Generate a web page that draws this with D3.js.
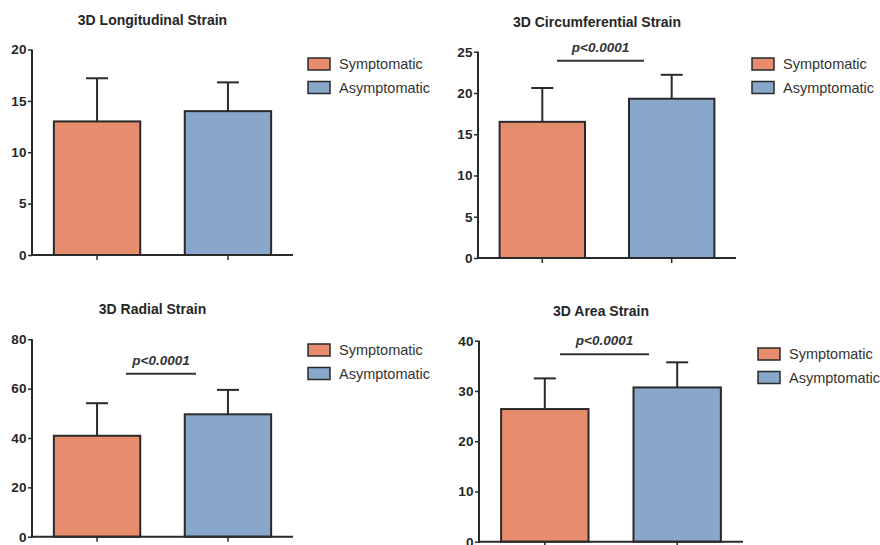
<!DOCTYPE html>
<html>
<head>
<meta charset="utf-8">
<script src="https://cdn.jsdelivr.net/npm/d3@7"></script>
<style>
  body { margin: 0; background: #fff; }
  svg { display: block; font-family: Arial, "Liberation Sans", sans-serif; }
</style>
</head>
<body>
<div class="chart"></div>
<script>
// data
const groups = ["Symptomatic", "Asymptomatic"];
const colors = ["#e88c6e", "#89a6cb"];

const titles = ["3D Longitudinal Strain", "3D Circumferential Strain", "3D Radial Strain", "3D Area Strain"];
const means = [[13.0, 14.0], [16.5, 19.3], [40.9, 49.6], [26.4, 30.7]];
const sds = [[4.2, 2.8], [4.1, 2.9], [13.2, 9.9], [6.1, 5.0]];
const yMax = [20, 25, 80, 40];
const yStep = [5, 5, 20, 10];
const pLabels = [null, "p<0.0001", "p<0.0001", "p<0.0001"];
const pLevels = [null, 23.9, 66, 37.3];

const width = 880;
const height = 545;

// panel frames: axis left, axis right, top of y range, zero line
const panels = [
  {x0: 32, x1: 293, yt: 49.5, yb: 255, lx: 308, ly: 58, sig: [125, 196]},
  {x0: 478, x1: 736, yt: 51.7, yb: 258, lx: 752, ly: 58, sig: [557, 644]},
  {x0: 32, x1: 293, yt: 339.3, yb: 536.7, lx: 308, ly: 344, sig: [126, 196]},
  {x0: 479, x1: 743, yt: 340.7, yb: 541.7, lx: 758, ly: 348, sig: [560, 649]}
];

const svg = d3.select('.chart')
  .append('svg')
  .attr('width', width)
  .attr('height', height);

panels.forEach((p, k) => {
  const g = svg.append('g');

  const x = d3.scaleBand()
    .domain(groups)
    .range([p.x0, p.x1])
    .paddingInner(0.34)
    .paddingOuter(0.167);

  const y = d3.scaleLinear()
    .domain([0, yMax[k]])
    .range([p.yb, p.yt]);

  const rows = groups.map((name, i) => ({name: name, mean: means[k][i], sd: sds[k][i], color: colors[i]}));

  // error bars first, bars cover the lower part
  const err = g.selectAll('g.err')
    .data(rows)
    .enter()
    .append('g')
    .attr('class', 'err')
    .attr('stroke', '#2a2a2a')
    .attr('stroke-width', 2);
  err.append('line')
    .attr('x1', d => x(d.name) + x.bandwidth() / 2)
    .attr('x2', d => x(d.name) + x.bandwidth() / 2)
    .attr('y1', d => y(d.mean))
    .attr('y2', d => y(d.mean + d.sd));
  err.append('line')
    .attr('x1', d => x(d.name) + x.bandwidth() / 2 - 11)
    .attr('x2', d => x(d.name) + x.bandwidth() / 2 + 11)
    .attr('y1', d => y(d.mean + d.sd))
    .attr('y2', d => y(d.mean + d.sd));

  g.selectAll('rect.bar')
    .data(rows)
    .enter()
    .append('rect')
    .attr('class', 'bar')
    .attr('x', d => x(d.name))
    .attr('y', d => y(d.mean))
    .attr('width', x.bandwidth())
    .attr('height', d => y(0) - y(d.mean))
    .attr('fill', d => d.color)
    .attr('stroke', '#2a2a2a')
    .attr('stroke-width', 2);

  // y axis
  const ya = g.append('g')
    .attr('transform', `translate(${p.x0},0)`)
    .call(d3.axisLeft(y).tickValues(d3.range(0, yMax[k] + 1, yStep[k])).tickSize(4).tickPadding(1).tickSizeOuter(0));
  ya.select('.domain').attr('stroke', '#2a2a2a').attr('stroke-width', 2)
    .attr('d', `M0,${p.yb + 1}V${p.yt}`);
  ya.selectAll('.tick line').attr('stroke', '#2a2a2a').attr('stroke-width', 1.5);
  ya.selectAll('.tick text')
    .attr('font-size', 13.5)
    .attr('font-weight', 'bold')
    .attr('letter-spacing', 0.4)
    .attr('fill', '#262626')
    .attr('font-family', 'Arial, "Liberation Sans", sans-serif');

  // x axis
  const xa = g.append('g')
    .attr('transform', `translate(0,${p.yb})`)
    .call(d3.axisBottom(x).tickSize(5).tickSizeOuter(0).tickFormat(''));
  xa.select('.domain').attr('stroke', '#2a2a2a').attr('stroke-width', 2)
    .attr('d', `M${p.x0 - 1},0H${p.x1}`);
  xa.selectAll('.tick line').attr('stroke', '#2a2a2a').attr('stroke-width', 1.5);

  // title
  g.append('text')
    .attr('x', (p.x0 + p.x1) / 2 - 10)
    .attr('y', p.yt - 25)
    .attr('text-anchor', 'middle')
    .attr('font-size', 14)
    .attr('font-weight', 'bold')
    .attr('fill', '#262626')
    .text(titles[k]);

  // significance bar
  if (pLabels[k]) {
    const ly = y(pLevels[k]);
    g.append('line')
      .attr('x1', p.sig[0]).attr('x2', p.sig[1])
      .attr('y1', ly).attr('y2', ly)
      .attr('stroke', '#333')
      .attr('stroke-width', 2);
    g.append('text')
      .attr('x', (p.sig[0] + p.sig[1]) / 2)
      .attr('y', ly - 9)
      .attr('text-anchor', 'middle')
      .attr('font-size', 13.5)
      .attr('font-weight', 'bold')
      .attr('font-style', 'italic')
      .attr('fill', '#333')
      .text(pLabels[k]);
  }

  // legend
  const leg = g.selectAll('g.leg')
    .data(rows)
    .enter()
    .append('g')
    .attr('class', 'leg')
    .attr('transform', (d, i) => `translate(${p.lx},${p.ly + i * 23.5})`);
  leg.append('rect')
    .attr('width', 22)
    .attr('height', 12)
    .attr('fill', d => d.color)
    .attr('stroke', '#2a2a2a')
    .attr('stroke-width', 1.5);
  leg.append('text')
    .attr('x', 31)
    .attr('y', 11)
    .attr('font-size', 14.5)
    .attr('fill', '#333')
    .text(d => d.name);
});
</script>
</body>
</html>
